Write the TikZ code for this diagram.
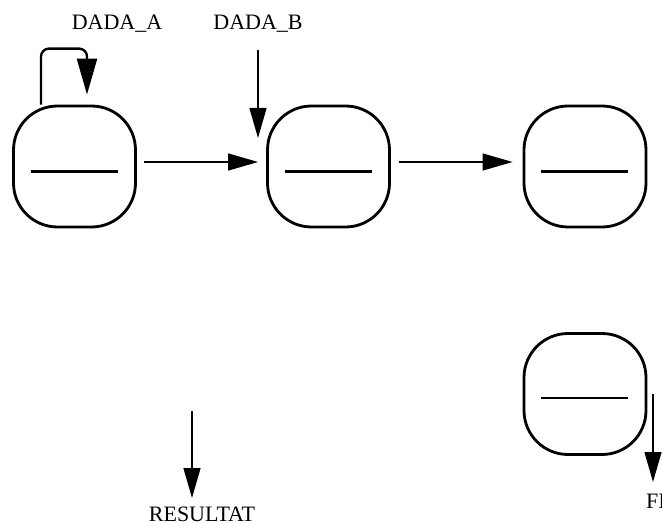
\documentclass[tikz,border=0pt]{standalone}
\usepackage{fontspec}
\setmainfont{Liberation Serif}
\usetikzlibrary{arrows.meta}
\begin{document}
\begin{tikzpicture}[x=1pt,y=-1pt,
  statebox/.style={draw,line width=2.8pt,rounded corners=44pt,minimum width=122pt,minimum height=121pt,inner sep=0pt},
  bar/.style={line width=2.8pt},
  flow/.style={line width=1.3pt,-{Triangle[length=30pt,width=17pt]}},
  loopflow/.style={line width=2.4pt,rounded corners=8pt,-{Triangle[length=36pt,width=20pt]}},
  lbl/.style={font=\fontsize{22}{26}\selectfont,anchor=base,inner sep=0pt}]
\useasboundingbox (0,0) rectangle (662,524);
\clip (0,0) rectangle (662,524);
% boxes
\node[statebox] (b1) at (74.5,166.5) {};
\node[statebox] (b2) at (328.5,166.5) {};
\node[statebox] (b3) at (585,166.5) {};
\node[statebox] (b4) at (585,394) {};
\foreach \b in {b1,b2,b3}{
  \draw[bar] ([xshift=-44pt,yshift=-5pt]\b.center) -- ([xshift=43pt,yshift=-5pt]\b.center);
}
\draw[bar] ([xshift=-44pt,yshift=-4pt]b4.center) -- ([xshift=43pt,yshift=-4pt]b4.center);
% labels
\node[lbl] (la) at (117,30) {DADA\_A};
\node[lbl] (lb) at (258,30) {DADA\_B};
\node[lbl] (lr) at (202,521) {RESULTAT};
\node[lbl,anchor=base west] (lf) at (646,508) {FI};
% free ends
\coordinate (bin) at (258,50);
\coordinate (bend) at (258,138);
\coordinate (rin) at (192,411);
\coordinate (rend) at (192,498);
\coordinate (fin) at (653,394);
\coordinate (fend) at (653,482);
% connectors
\draw[loopflow] ([xshift=-33.5pt]b1.north) -- ++(0,-56) -- ++(46,0) -- ++(0,46);
\draw[flow] ([yshift=4.5pt]b1.east) ++(7,0) -- ([yshift=4.5pt,xshift=-8pt]b2.west);
\draw[flow] ([yshift=4.5pt]b2.east) ++(8,0) -- ([yshift=4.5pt,xshift=-10pt]b3.west);
\draw[flow] (bin) -- (bend);
\draw[flow] (rin) -- (rend);
\draw[flow] (fin) -- (fend);
\end{tikzpicture}
\end{document}
